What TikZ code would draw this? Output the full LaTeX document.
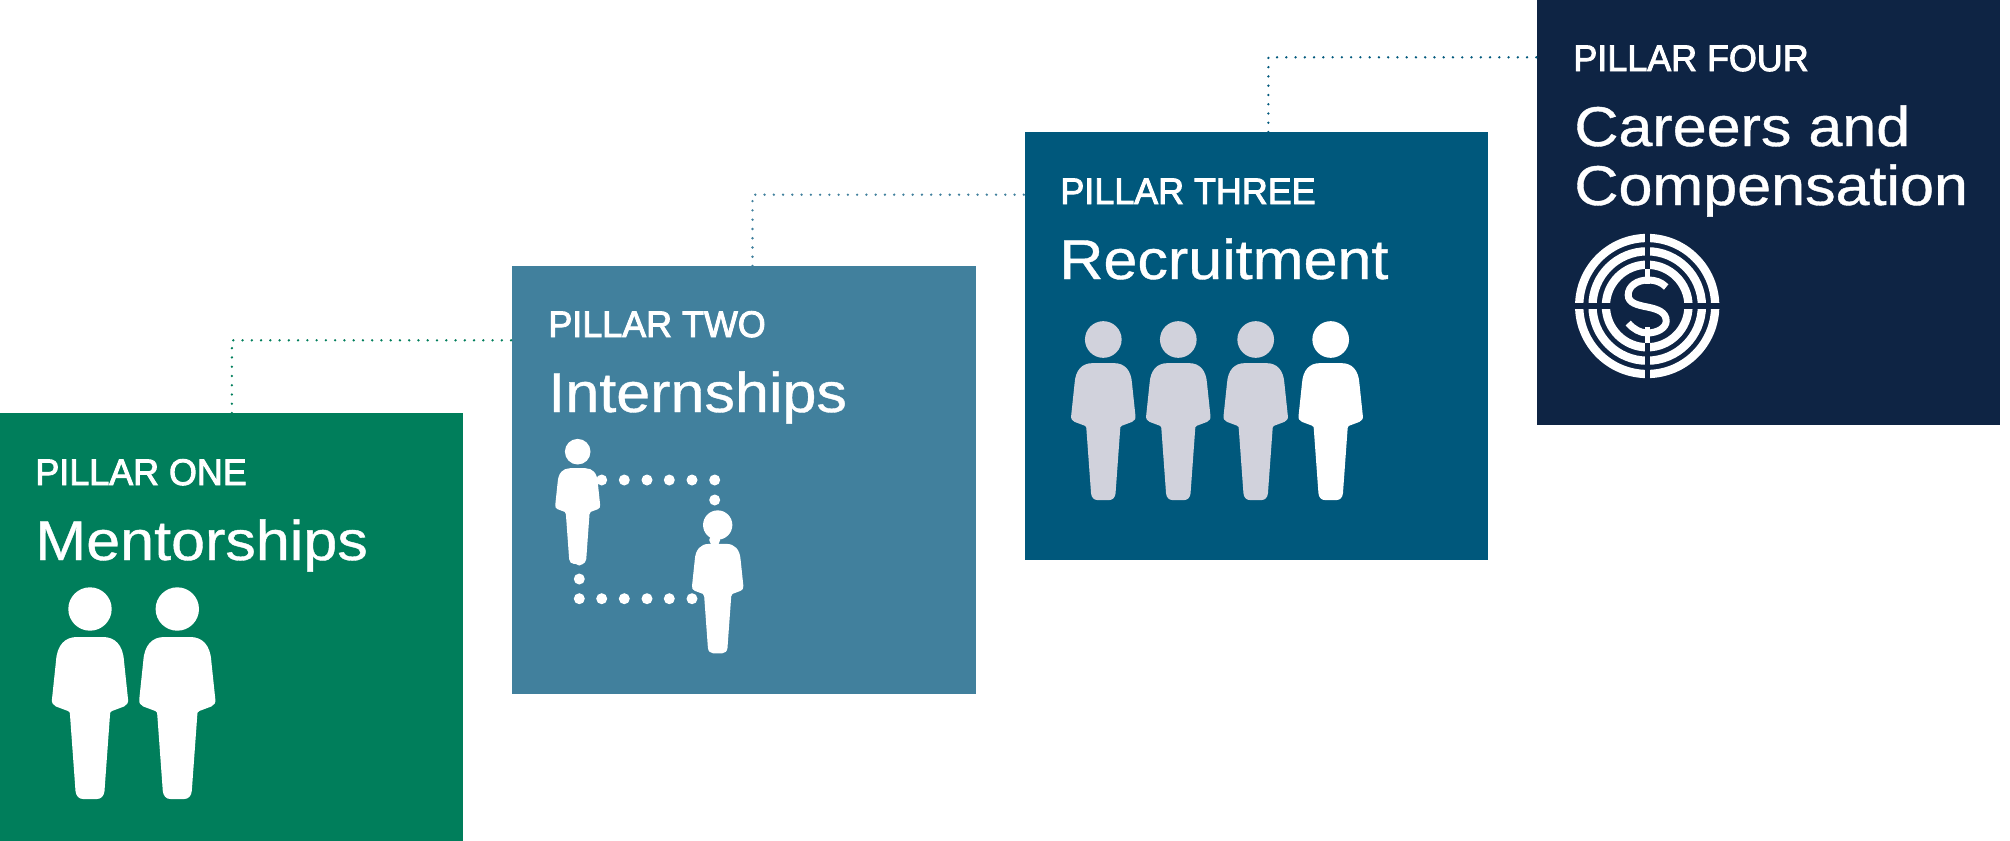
\documentclass[tikz,border=0pt]{standalone}
\usepackage{fontspec}
\setmainfont[FakeStretch=1.09,FakeBold=0.7]{Liberation Sans}
\newfontfamily\tagfont[FakeBold=2.5,FakeStretch=0.97]{Liberation Sans}

\definecolor{mentorgreen}{HTML}{007E5B}
\definecolor{internblue}{HTML}{41809D}
\definecolor{recruitblue}{HTML}{00587C}
\definecolor{careernavy}{HTML}{0E2444}
\definecolor{crowdgrey}{HTML}{D1D2DC}

\tikzset{
  pillarbox/.style={rectangle,inner sep=0pt,anchor=north west,minimum width=231.5pt,minimum height=214pt},
  pillartag/.style={inner sep=0pt,anchor=base west,text=white,font=\tagfont\fontsize{18.5}{22}\selectfont},
  pillarname/.style={inner sep=0pt,anchor=base west,text=white,font=\fontsize{28}{30}\selectfont},
  leader/.style={line width=1.3pt,line cap=round,dash pattern=on 0pt off 4.63pt},
  person/.pic={
    \fill[pic actions] (0,0) circle (21.7);
    \fill[pic actions] (-13,28) -- (13,28) .. controls (25,28) and (33,36) .. (34,52) -- (38,90)
      .. controls (38.5,94) and (37,96) .. (34,97.5) -- (22,102) .. controls (20,103) and (20,104) .. (20,106)
      -- (14.5,182) .. controls (14,187) and (11,190) .. (7,190) -- (-7,190)
      .. controls (-11,190) and (-14,187) .. (-14.5,182) -- (-20,106)
      .. controls (-20,104) and (-20,103) .. (-22,102) -- (-34,97.5)
      .. controls (-37,96) and (-38.5,94) .. (-38,90) -- (-34,52)
      .. controls (-33,36) and (-25,28) .. (-13,28) -- cycle;
  },
  coinmark/.pic={
    \foreach \r in {68,54.7,41.3}
      \draw[white,line width=4.15pt] (0,0) circle (\r);
    \fill[careernavy] (-2,-75) rectangle (2.3,75);
    \fill[careernavy] (-75,-2.7) rectangle (75,3);
    \fill[white] (-2.7,-36.7) rectangle (3,-22);
    \fill[white] (-2.7,20.7) rectangle (3,37.3);
    \draw[white,line width=3.5pt] (19,-19) .. controls (14,-24) and (8,-26) .. (1,-26)
      .. controls (-10,-26) and (-19,-20) .. (-19,-11) .. controls (-19,-3) and (-10,-1) .. (0,1)
      .. controls (10,3) and (19,6) .. (19,15) .. controls (19,22) and (10,27) .. (0,27)
      .. controls (-7,27) and (-14,23) .. (-19,17);
  }
}

\begin{document}
\begin{tikzpicture}[x=0.5pt,y=-0.5pt]
\useasboundingbox (0,0) rectangle (2010,841);

% Draw the four pillars
\node[pillarbox,fill=mentorgreen] (one) at (0,413) {};
\node[pillarbox,fill=internblue,minimum width=232pt] (two) at (512,266) {};
\node[pillarbox,fill=recruitblue] (three) at (1024.5,132) {};
\node[pillarbox,fill=careernavy,minimum height=212.5pt] (four) at (1537,0) {};

% Dotted steps between pillars
\coordinate (risetwo) at (752.5,266);
\coordinate (risethree) at (1268.4,132);
\coordinate (joinone) at (two.west |- 0,340.3);
\coordinate (jointwo) at (three.west |- 0,194.7);
\coordinate (jointhree) at (four.west |- 0,57.3);
\draw[leader,mentorgreen] (one.north) |- (joinone);
\draw[leader,internblue] (risetwo) |- (jointwo);
\draw[leader,recruitblue] (risethree) |- (jointhree);

% Titles
\node[pillartag] (tagone) at (35,485) {PILLAR ONE};
\node[pillarname] (nameone) at (35,560) {Mentorships};
\node[pillartag] (tagtwo) at (548,337) {PILLAR TWO};
\node[pillarname] (nametwo) at (548,412) {Internships};
\node[pillartag] (tagthree) at (1060,204) {PILLAR THREE};
\node[pillarname] (namethree) at (1059,279) {Recruitment};
\node[pillartag] (tagfour) at (1573,71) {PILLAR FOUR};
\node[pillarname] (namefour) at (1574,146) {Careers and};
\node[pillarname] (namefive) at (1574,205) {Compensation};

% People
\pic[fill=white] (mentor) at (90,609) {person};
\pic[fill=white] (mentee) at (177.3,609) {person};

\foreach \x in {601.7,624.3,647,669.3,692,714.7}
  \fill[white] (\x,480) circle (5.5);
\foreach \y in {500,520,540}
  \fill[white] (714.7,\y) circle (5.5);
\foreach \x in {579.3,601.7,624.3,647,669.3,692}
  \fill[white] (\x,598.7) circle (5.5);
\foreach \y in {560,579}
  \fill[white] (579.3,\y) circle (5.5);
\pic[fill=white,scale=0.59] (internleft) at (577.7,451.7) {person};
\pic[fill=white,scale=0.675] (internright) at (717.7,525) {person};

\pic[fill=crowdgrey,scale=0.845] (crowdone) at (1103.3,339.5) {person};
\pic[fill=crowdgrey,scale=0.845] (crowdtwo) at (1178.3,339.5) {person};
\pic[fill=crowdgrey,scale=0.845] (crowdthree) at (1255.7,339.5) {person};
\pic[fill=white,scale=0.845] (crowdfour) at (1330.7,339.5) {person};

% Coin target
\pic (coin) at (1647.2,306) {coinmark};

\end{tikzpicture}
\end{document}
